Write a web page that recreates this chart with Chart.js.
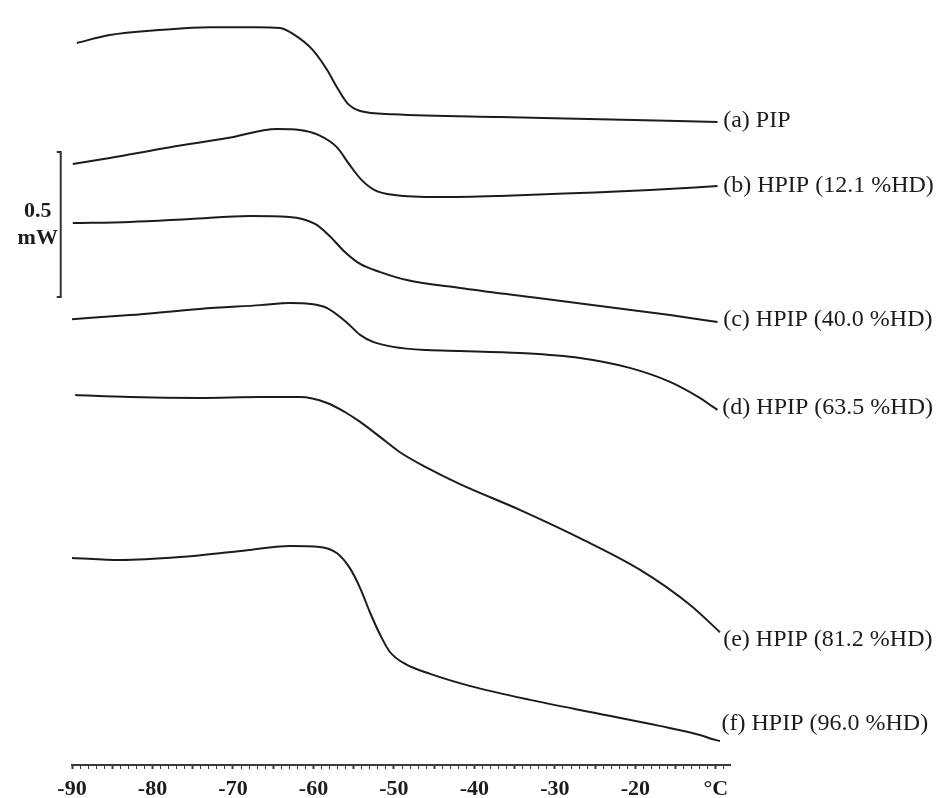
<!DOCTYPE html>
<html>
<head>
<meta charset="utf-8">
<title>DSC curves of PIP and HPIP</title>
<script src="https://cdn.jsdelivr.net/npm/chart.js@4.4.1/dist/chart.umd.min.js"></script>
<style>
    body { margin: 0; background: #ffffff; }
    #box { width: 940px; height: 798px; }
</style>
</head>
<body>
<div id="box"><canvas id="myChart" width="940" height="798"></canvas></div>
<script>
'use strict';

//temperature (°C) and heat flow (mW, curves shifted up for display)
let tempA = [-89.4, -85.3, -79.1, -72.9, -67.0, -64.2, -62.5, -60.1, -58.3, -57.1, -55.8, -54.2, -50.1, -36.8, -24.4, -9.8];
let flowA = [2.473, 2.500, 2.517, 2.527, 2.527, 2.524, 2.503, 2.449, 2.380, 2.322, 2.267, 2.240, 2.229, 2.219, 2.212, 2.202];

let tempB = [-89.9, -85.3, -77.8, -70.7, -64.5, -61.7, -59.4, -57.1, -55.5, -54.0, -52.4, -49.9, -44.3, -36.8, -26.9, -18.2, -9.8];
let flowB = [2.058, 2.079, 2.116, 2.147, 2.178, 2.175, 2.158, 2.116, 2.055, 2.003, 1.969, 1.952, 1.945, 1.949, 1.959, 1.969, 1.983];

let tempC = [-89.9, -82.8, -75.3, -67.9, -63.0, -59.8, -58.0, -56.1, -54.2, -51.7, -48.4, -41.8, -33.1, -24.4, -15.7, -9.8];
let flowC = [1.856, 1.860, 1.870, 1.880, 1.877, 1.853, 1.812, 1.757, 1.716, 1.688, 1.661, 1.634, 1.603, 1.572, 1.541, 1.517];

let tempD = [-90.0, -82.8, -74.1, -66.6, -62.9, -60.4, -58.3, -55.8, -54.2, -52.6, -50.1, -45.9, -41.8, -34.3, -26.9, -20.7, -15.7, -12.0, -10.5, -9.8];
let flowD = [1.527, 1.541, 1.562, 1.575, 1.582, 1.579, 1.565, 1.514, 1.473, 1.449, 1.432, 1.421, 1.418, 1.411, 1.394, 1.360, 1.312, 1.257, 1.229, 1.216];

let tempE = [-89.6, -82.8, -74.1, -66.6, -61.7, -58.3, -56.1, -54.2, -51.7, -49.3, -46.1, -41.8, -34.3, -26.9, -19.4, -13.2, -9.5];
let flowE = [1.267, 1.260, 1.257, 1.260, 1.260, 1.240, 1.209, 1.175, 1.123, 1.072, 1.021, 0.962, 0.873, 0.777, 0.668, 0.548, 0.455];

let tempF = [-90.0, -84.0, -76.6, -69.1, -62.9, -59.2, -57.1, -55.5, -54.2, -53.0, -51.7, -50.5, -48.6, -45.5, -40.6, -33.1, -24.4, -17.0, -12.0, -10.5, -9.5];
let flowF = [0.709, 0.702, 0.712, 0.733, 0.750, 0.747, 0.726, 0.675, 0.606, 0.524, 0.445, 0.387, 0.346, 0.312, 0.271, 0.223, 0.175, 0.134, 0.103, 0.089, 0.082];

//curve names and where each name sits (°C, mW)
let curveNames = ['(a) PIP', '(b) HPIP (12.1 %HD)', '(c) HPIP (40.0 %HD)', '(d) HPIP (63.5 %HD)', '(e) HPIP (81.2 %HD)', '(f) HPIP (96.0 %HD)'];
let nameTemp = [-9.1, -9.1, -9.1, -9.2, -9.1, -9.3];
let nameFlow = [2.205, 1.983, 1.524, 1.223, 0.428, 0.140];

//axis ticks
let tickStart = -90;
let tickEnd = -9;
let tickLabels = ['-90', '-80', '-70', '-60', '-50', '-40', '-30', '-20', '°C'];

//scale bar for heat flow
let barLow = 1.603;
let barHigh = 2.099;
let barTemp = -91.4;
let barText = ['0.5', 'mW'];

//make the points for one curve
function makePoints(temps, flows) {
    let points = [];
    for (let i = 0; i < temps.length; i++) {
        points.push({ x: temps[i], y: flows[i] });
    }
    return points;
}

let allTemps = [tempA, tempB, tempC, tempD, tempE, tempF];
let allFlows = [flowA, flowB, flowC, flowD, flowE, flowF];
let datasets = [];
for (let i = 0; i < allTemps.length; i++) {
    datasets.push({
        label: curveNames[i],
        data: makePoints(allTemps[i], allFlows[i]),
        borderColor: '#1c1c1c',
        borderWidth: 2,
        pointRadius: 0,
        fill: false,
        cubicInterpolationMode: 'monotone'
    });
}

//ticks every degree, a label every ten
let tickValues = [];
for (let t = tickStart; t <= tickEnd; t++) {
    tickValues.push(t);
}

//write the curve names and the 0.5 mW bar
let extraText = {
    id: 'extraText',
    afterDraw(chart) {
        let ctx = chart.ctx;
        let xs = chart.scales.x;
        let ys = chart.scales.y;
        ctx.save();
        ctx.fillStyle = '#1c1c1c';
        ctx.textAlign = 'left';
        ctx.textBaseline = 'middle';
        ctx.font = '24px "Liberation Serif"';
        for (let i = 0; i < curveNames.length; i++) {
            ctx.fillText(curveNames[i], xs.getPixelForValue(nameTemp[i]), ys.getPixelForValue(nameFlow[i]));
        }

        let bx = xs.getPixelForValue(barTemp);
        let top = ys.getPixelForValue(barHigh);
        let bottom = ys.getPixelForValue(barLow);
        ctx.strokeStyle = '#333333';
        ctx.lineWidth = 2;
        ctx.beginPath();
        ctx.moveTo(bx - 4, top);
        ctx.lineTo(bx, top);
        ctx.lineTo(bx, bottom);
        ctx.lineTo(bx - 4, bottom);
        ctx.stroke();

        ctx.textAlign = 'center';
        ctx.font = 'bold 22px "Liberation Serif"';
        let mid = (top + bottom) / 2;
        ctx.fillText(barText[0], bx - 23, mid - 13);
        ctx.fillText(barText[1], bx - 23, mid + 14);
        ctx.restore();
    }
};

let ctx = document.getElementById('myChart').getContext('2d');
let chart = new Chart(ctx, {
    type: 'line',
    data: { datasets: datasets },
    options: {
        responsive: false,
        animation: false,
        layout: { padding: { left: 72, right: 210, top: 0, bottom: 0 } },
        plugins: {
            legend: { display: false },
            tooltip: { enabled: false }
        },
        scales: {
            x: {
                type: 'linear',
                min: -90,
                max: -8.25,
                afterBuildTicks: function (scale) {
                    scale.ticks = tickValues.map(function (v) { return { value: v }; });
                },
                afterFit: function (scale) {
                    scale.height = 33;
                },
                border: { display: true, color: '#3a3a3a', width: 2 },
                grid: {
                    drawOnChartArea: false,
                    drawTicks: true,
                    tickLength: 4,
                    tickColor: '#3a3a3a',
                    tickWidth: function (c) {
                        return c.tick && c.tick.value % 5 === 0 ? 2 : 1;
                    }
                },
                ticks: {
                    autoSkip: false,
                    maxRotation: 0,
                    padding: 7,
                    color: '#1c1c1c',
                    font: { family: 'Liberation Serif', size: 22, weight: 'bold' },
                    callback: function (value) {
                        if (value % 10 !== 0) {
                            return '';
                        }
                        return tickLabels[(value - tickStart) / 10];
                    }
                }
            },
            y: {
                type: 'linear',
                display: false,
                min: 0,
                max: 2.62
            }
        }
    },
    plugins: [extraText]
});
</script>
</body>
</html>
